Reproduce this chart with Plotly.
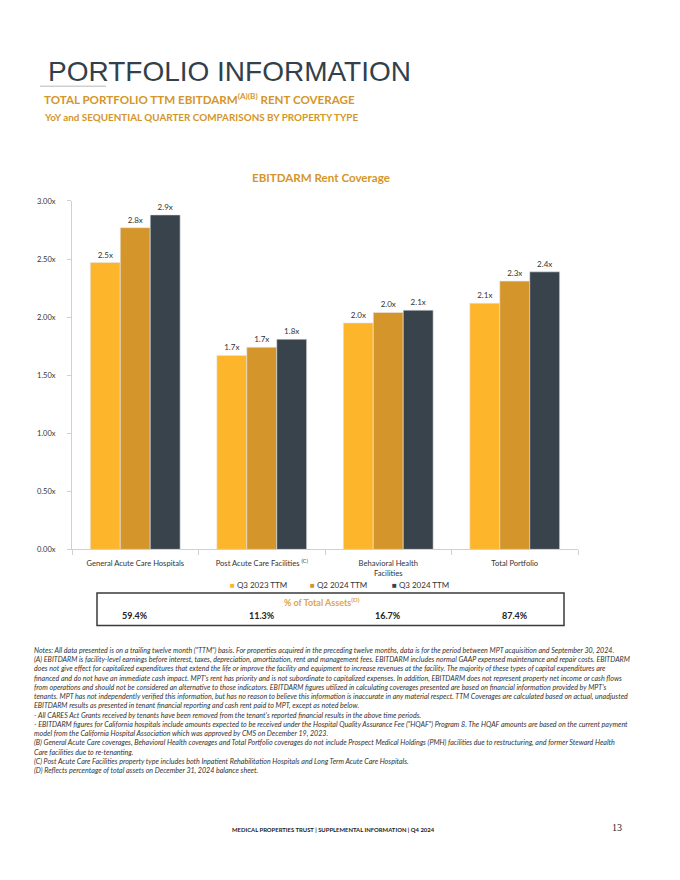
import plotly.graph_objects as go

categories = ["General Acute Care Hospitals", "Post Acute Care Facilities <sup>(C)</sup>",
              "Behavioral Health<br>Facilities", "Total Portfolio"]
series_names = ["Q3 2023 TTM", "Q2 2024 TTM", "Q3 2024 TTM"]
q3_2023 = [2.47, 1.67, 1.95, 2.12]
q2_2024 = [2.77, 1.74, 2.04, 2.31]
q3_2024 = [2.88, 1.81, 2.06, 2.39]
q3_2023_labels = ["2.5x", "1.7x", "2.0x", "2.1x"]
q2_2024_labels = ["2.8x", "1.7x", "2.0x", "2.3x"]
q3_2024_labels = ["2.9x", "1.8x", "2.1x", "2.4x"]
pct_total_assets = ["59.4%", "11.3%", "16.7%", "87.4%"]
y_tick_vals = [0, 0.5, 1.0, 1.5, 2.0, 2.5, 3.0]
y_tick_text = ["0.00x", "0.50x", "1.00x", "1.50x", "2.00x", "2.50x", "3.00x"]

colors = ["#FDB52B", "#D4962A", "#39434C"]
W, H = 680, 880
BODY = "Lato"

def py(y):
    return 1 - y / H

def px(x):
    return x / W

fig = go.Figure()
for name, vals, labs, col in zip(series_names, [q3_2023, q2_2024, q3_2024],
                                  [q3_2023_labels, q2_2024_labels, q3_2024_labels], colors):
    fig.add_trace(go.Bar(
        x=categories, y=vals, name=name, text=labs, textposition="outside",
        textfont=dict(size=8, color="#333333", family=BODY),
        marker=dict(color=col, line=dict(color="#E6E6E6", width=0.6)),
        showlegend=False, cliponaxis=False,
    ))

def pa(**kw):
    d = dict(xref="paper", yref="paper", showarrow=False)
    d.update(kw)
    return d

annotations = [
    pa(text="PORTFOLIO INFORMATION", x=px(46), y=py(68), xanchor="left", yanchor="middle",
       font=dict(family="Liberation Sans", size=28, color="#333F4A")),
    pa(text="<b>TOTAL PORTFOLIO TTM EBITDARM<sup>(A)(B)</sup> RENT COVERAGE</b>",
       x=px(42), y=py(95), xanchor="left", yanchor="middle",
       font=dict(family=BODY, size=11.6, color="#D4962A")),
    pa(text="<b>YoY and SEQUENTIAL QUARTER COMPARISONS BY PROPERTY TYPE</b>",
       x=px(42), y=py(114), xanchor="left", yanchor="middle",
       font=dict(family=BODY, size=9.9, color="#D4962A")),
    pa(text="<b>EBITDARM Rent Coverage</b>", x=px(321), y=py(175), xanchor="center", yanchor="middle",
       font=dict(family=BODY, size=11.6, color="#D4962A")),
    pa(text="<b>% of Total Assets<sup>(D)</sup></b>", x=px(322), y=py(604), xanchor="center", yanchor="middle",
       font=dict(family=BODY, size=9, color="#E2A43F")),
    pa(text="<b>MEDICAL PROPERTIES TRUST | SUPPLEMENTAL INFORMATION | Q4 2024</b>",
       x=px(333), y=py(834), xanchor="center", yanchor="middle",
       font=dict(family=BODY, size=5.9, color="#222222")),
    pa(text="13", x=px(617), y=py(832), xanchor="center", yanchor="middle",
       font=dict(family="Liberation Serif", size=10, color="#222222")),
]
legend_x = [258, 338, 420]
for name, col, lx in zip(series_names, colors, legend_x):
    annotations.append(pa(text="<span style='color:" + col + "'>■</span> " + name,
                          x=px(lx), y=py(587), xanchor="center", yanchor="middle",
                          font=dict(family=BODY, size=8, color="#333333")))
for cat, pct in zip(categories, pct_total_assets):
    annotations.append(dict(text="<b>" + pct + "</b>", x=cat, xref="x", y=py(618), yref="paper",
                            xanchor="center", yanchor="middle", showarrow=False,
                            font=dict(family=BODY, size=9, color="#222222")))

notes = [
    "Notes: All data presented is on a trailing twelve month (\"TTM\") basis. For properties acquired in the preceding twelve months, data is for the period between MPT acquisition and September 30, 2024.",
    "(A) EBITDARM is facility-level earnings before interest, taxes, depreciation, amortization, rent and management fees. EBITDARM includes normal GAAP expensed maintenance and repair costs. EBITDARM",
    "does not give effect for capitalized expenditures that extend the life or improve the facility and equipment to increase revenues at the facility. The majority of these types of capital expenditures are",
    "financed and do not have an immediate cash impact. MPT's rent has priority and is not subordinate to capitalized expenses. In addition, EBITDARM does not represent property net income or cash flows",
    "from operations and should not be considered an alternative to those indicators. EBITDARM figures utilized in calculating coverages presented are based on financial information provided by MPT's",
    "tenants. MPT has not independently verified this information, but has no reason to believe this information is inaccurate in any material respect. TTM Coverages are calculated based on actual, unadjusted",
    "EBITDARM results as presented in tenant financial reporting and cash rent paid to MPT, except as noted below.",
    "- All CARES Act Grants received by tenants have been removed from the tenant's reported financial results in the above time periods.",
    "- EBITDARM figures for California hospitals include amounts expected to be received under the Hospital Quality Assurance Fee (\"HQAF\") Program 8. The HQAF amounts are based on the current payment",
    "model from the California Hospital Association which was approved by CMS on December 19, 2023.",
    "(B) General Acute Care coverages, Behavioral Health coverages and Total Portfolio coverages do not include Prospect Medical Holdings (PMH) facilities due to restructuring, and former Steward Health",
    "Care facilities due to re-tenanting.",
    "(C) Post Acute Care Facilities property type includes both Inpatient Rehabilitation Hospitals and Long Term Acute Care Hospitals.",
    "(D) Reflects percentage of total assets on December 31, 2024 balance sheet.",
]
annotations.append(pa(text="<i>" + "<br>".join(notes) + "</i>", x=px(32), y=py(647), xanchor="left",
                      yanchor="top", align="left",
                      font=dict(family=BODY, size=7.1, color="#333333")))

shapes = [
    dict(type="line", xref="paper", yref="paper", x0=px(40), x1=px(106), y0=py(83), y1=py(83),
         line=dict(color="#D0D0D0", width=1.5)),
    dict(type="rect", xref="paper", yref="paper", x0=px(97), x1=px(564), y0=py(628), y1=py(595),
         line=dict(color="#3A3A3A", width=1.5)),
]

fig.update_layout(
    width=W, height=H, margin=dict(l=0, r=0, t=0, b=0),
    paper_bgcolor="white", plot_bgcolor="white",
    barmode="group", bargap=0.29, bargroupgap=0,
    font=dict(family=BODY, color="#333333"),
    annotations=annotations, shapes=shapes, showlegend=False,
    xaxis=dict(domain=[px(72), px(578)], showline=True, linecolor="#D0D0D0", linewidth=1,
               ticks="outside", tickson="boundaries", ticklen=5, tickcolor="#D0D0D0",
               ticklabelstandoff=7,
               tickfont=dict(size=7.6, family=BODY, color="#333333"), showgrid=False,
               fixedrange=True),
    yaxis=dict(domain=[py(551), py(199)], range=[0, 3], tickvals=y_tick_vals, ticktext=y_tick_text,
               showline=True, linecolor="#D0D0D0", linewidth=1, ticks="outside", ticklen=4,
               tickcolor="#D0D0D0", showgrid=False, zeroline=False, ticklabelstandoff=10,
               tickfont=dict(size=7.5, family=BODY, color="#333333")),
)

fig.write_html("out.html", config={"displayModeBar": False},
               post_script="document.body.style.margin='0';document.body.style.overflow='hidden';")
